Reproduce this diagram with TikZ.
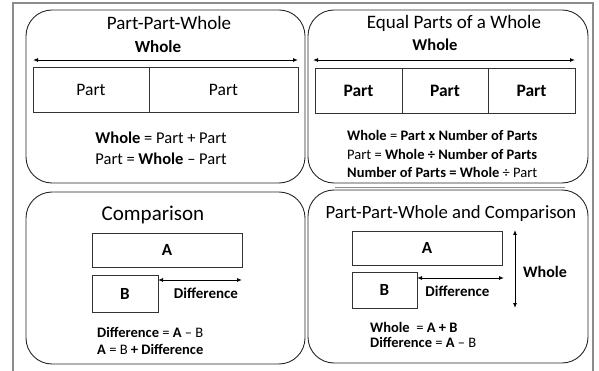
\documentclass[tikz,border=0pt]{standalone}
\usepackage{fontspec}
\setmainfont{Carlito}
\usetikzlibrary{arrows.meta}
\newcommand{\fs}[1]{\fontsize{#1}{#1}\selectfont}
\tikzset{
  panel/.style={draw=black!85, line width=0.9pt, rounded corners=26pt},
  frame/.style={draw=black!45, line width=1.3pt},
  cell/.style={draw=black!80, line width=0.8pt, inner sep=0pt, minimum height=45pt},
  lbl/.style={inner sep=0pt},
  dbl/.style={line width=0.9pt, {Latex[length=5pt,width=4pt]}-{Latex[length=5pt,width=4pt]}},
  ttl/.style={inner sep=0pt, font=\fs{19}},
  frm/.style={inner sep=0pt, anchor=west, font=\fs{14.5}},
}
\begin{document}
\begin{tikzpicture}[x=1pt,y=-1pt]
\useasboundingbox (0,0) rectangle (599,371);
% outer frame
\draw[frame] (13,371) -- (13,3) -- (593,3) -- (593,371);
\draw[draw=black!45, line width=0.8pt] (335,187.5) -- (565,187.5);
% panels
\draw[panel] (26,10) rectangle (305,183);
\draw[panel] (308,10) rectangle (588,183);
\draw[panel] (26,192) rectangle (305,364);
\draw[panel] (308,190) rectangle (588,363);

% ---- Panel 1
\node[ttl] (t1) at (169,23) {Part-Part-Whole};
\node[lbl, font=\fs{17}\bfseries] (w1) at (158,47) {Whole};
\coordinate (w1l) at (33,60);
\coordinate (w1r) at (298,60);
\draw[dbl] (w1l) -- (w1r);
\node[cell, minimum width=116pt, font=\fs{17.5}] (p1a) at (91,89.5) {Part};
\node[cell, minimum width=149pt, font=\fs{17.5}] (p1b) at (223.5,89.5) {Part};
\node[lbl, font=\fs{16.5}] (f1a) at (161,138) {\textbf{Whole} = Part + Part};
\node[lbl, font=\fs{16.5}] (f1b) at (161,159) {Part = \textbf{Whole} -- Part};

% ---- Panel 2
\node[ttl] (t2) at (454,23) {Equal Parts of a Whole};
\node[lbl, font=\fs{16.5}\bfseries] (w2) at (435,45) {Whole};
\coordinate (w2l) at (313,60);
\coordinate (w2r) at (575,60);
\draw[dbl] (w2l) -- (w2r);
\node[cell, minimum width=87pt, font=\fs{17.5}\bfseries] (p2a) at (358.5,90.5) {Part};
\node[cell, minimum width=86pt, font=\fs{17.5}\bfseries] (p2b) at (445,90.5) {Part};
\node[cell, minimum width=87pt, font=\fs{17.5}\bfseries] (p2c) at (531.5,90.5) {Part};
\node[frm] (f2a) at (347,135) {\textbf{Whole} = \textbf{Part x Number of Parts}};
\node[frm] (f2b) at (347,154) {Part = \textbf{Whole ÷ Number of Parts}};
\node[frm] (f2c) at (347,172) {\textbf{Number of Parts = Whole} ÷ Part};

% ---- Panel 3
\node[ttl, font=\fs{21}] (t3) at (153,215) {Comparison};
\node[cell, minimum width=150pt, minimum height=34pt, font=\fs{17}\bfseries] (a3) at (167,250) {A};
\node[cell, minimum width=66pt, minimum height=37pt, font=\fs{17}\bfseries] (b3) at (125,293.5) {B};
\coordinate (d3l) at (158,280);
\coordinate (d3r) at (242,280);
\draw[dbl] (d3l) -- (d3r);
\node[lbl, font=\fs{15}\bfseries] (d3) at (206,293) {Difference};
\node[frm] (f3a) at (97,332) {\textbf{Difference} = \textbf{A} -- B};
\node[frm] (f3b) at (97,349) {\textbf{A} = B \textbf{+ Difference}};

% ---- Panel 4
\node[ttl, font=\fs{18.7}] (t4) at (451,214) {Part-Part-Whole and Comparison};
\node[cell, minimum width=150pt, minimum height=34pt, font=\fs{17}\bfseries] (a4) at (427,248) {A};
\node[cell, minimum width=65pt, minimum height=36pt, font=\fs{17}\bfseries] (b4) at (384.5,290) {B};
\coordinate (d4l) at (417,278);
\coordinate (d4r) at (504,278);
\draw[dbl] (d4l) -- (d4r);
\node[lbl, font=\fs{15}\bfseries] (d4) at (457.5,291) {Difference};
\coordinate (v4t) at (515,230);
\coordinate (v4b) at (515,308);
\draw[dbl] (v4t) -- (v4b);
\node[lbl, font=\fs{16}\bfseries] (w4) at (545,272) {Whole};
\node[frm] (f4a) at (370,327) {\textbf{Whole}\ \ = \textbf{A + B}};
\node[frm] (f4b) at (370,342) {\textbf{Difference} = \textbf{A} -- B};
\end{tikzpicture}
\end{document}
